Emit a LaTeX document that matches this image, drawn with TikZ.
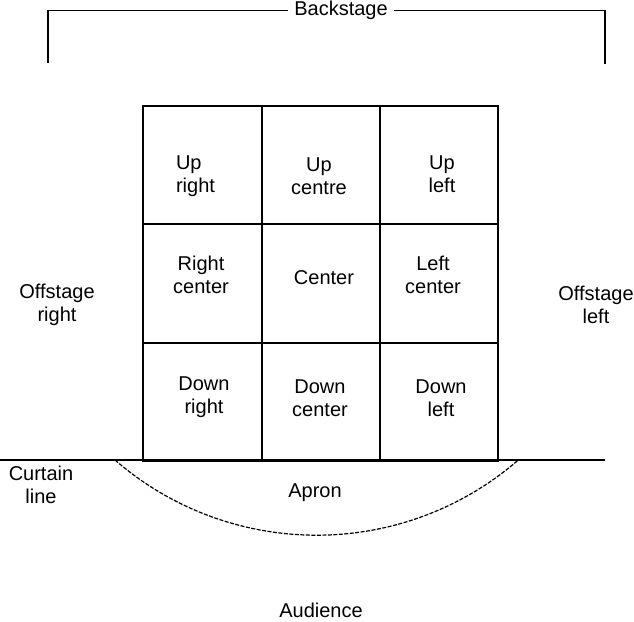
\documentclass[tikz,border=0pt]{standalone}
\usepackage{fontspec}
\setmainfont{Liberation Sans}
\tikzset{
  stagelabel/.style={align=center, inner sep=0pt, font=\fontsize{20}{23}\selectfont},
  gridline/.style={line width=1.8pt, line cap=rect},
  apronline/.style={line width=1.2pt, dash pattern=on 4pt off 1.5pt}
}
\begin{document}
\begin{tikzpicture}[x=1pt, y=-1pt]
    \useasboundingbox (0, 0) rectangle (634, 621);
    % backstage bracket
    \node[stagelabel, inner xsep=6pt] (back) at (341, 10.5) {Backstage};
    \coordinate (bl) at (48, 63);
    \coordinate (br) at (605, 64);
    \draw[line width=1.5pt] (bl) |- (back.west);
    \draw[line width=1.5pt] (back.east) -| (br);
    % the nine areas
    \foreach \x in {143, 262, 380, 498}
      \draw[gridline] (\x, 106) -- (\x, 461);
    \foreach \y in {106, 224, 343, 461}
      \draw[gridline] (143, \y) -- (498, \y);
    \node[stagelabel, align=left] (ur) at (195.5, 176) {Up\\right};
    \node[stagelabel] (uc) at (319, 176) {Up\\centre};
    \node[stagelabel] (ul) at (442, 174) {Up\\left};
    \node[stagelabel] (rc) at (201, 275) {Right\\center};
    \node[stagelabel] (cc) at (324, 278) {Center};
    \node[stagelabel] (lc) at (433, 275) {Left\\center};
    \node[stagelabel] (dr) at (204, 397) {Down\\right};
    \node[stagelabel] (dc) at (320, 398) {Down\\center};
    \node[stagelabel] (dl) at (441, 398) {Down\\left};
    % sides
    \node[stagelabel] (offr) at (57, 305) {Offstage\\right};
    \node[stagelabel] (offl) at (596, 305) {Offstage\\left};
    % curtain line and apron
    \coordinate (cl) at (0, 460);
    \coordinate (cr) at (605, 460);
    \draw[line width=2pt] (cl) -- (cr);
    \node[stagelabel] (curtain) at (41, 485) {Curtain\\line};
    \coordinate (as) at (115, 460);
    \draw[apronline] (as) arc[start angle=130.9, end angle=49.1, radius=308];
    \node[stagelabel] (apron) at (315, 493) {Apron};
    \node[stagelabel] (aud) at (321, 610) {Audience};
  \end{tikzpicture}
\end{document}
